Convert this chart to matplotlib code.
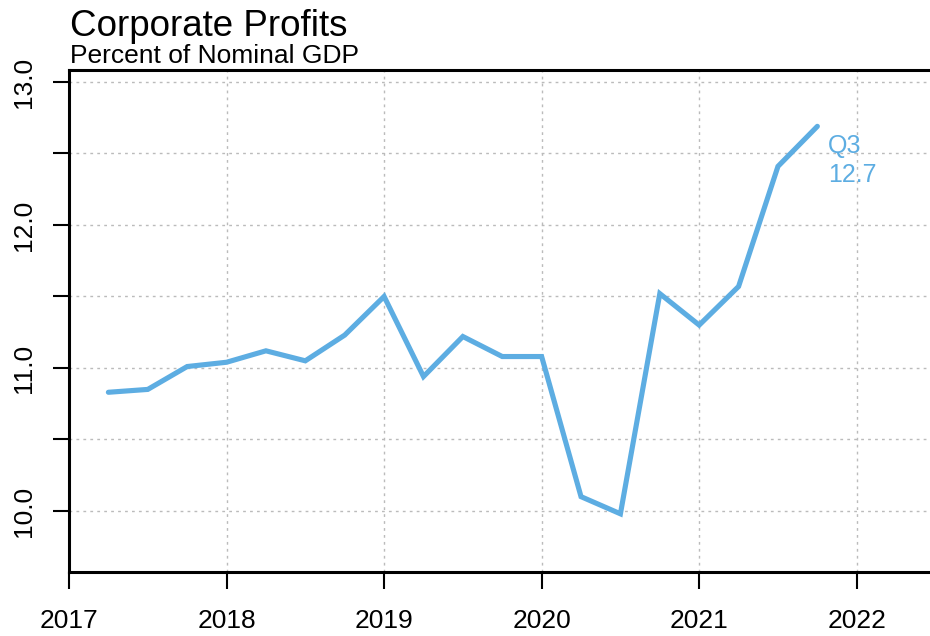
import matplotlib
matplotlib.use("Agg")
import matplotlib.pyplot as plt

plt.rcParams['font.family'] = ['Liberation Sans', 'DejaVu Sans']

# Quarterly corporate profits as a share of nominal GDP
quarters = ["2017Q1", "2017Q2", "2017Q3", "2017Q4",
            "2018Q1", "2018Q2", "2018Q3", "2018Q4",
            "2019Q1", "2019Q2", "2019Q3", "2019Q4",
            "2020Q1", "2020Q2", "2020Q3", "2020Q4",
            "2021Q1", "2021Q2", "2021Q3"]
profits_pct_gdp = [10.83, 10.85, 11.01, 11.04,
                   11.12, 11.05, 11.23, 11.50,
                   10.94, 11.22, 11.08, 11.08,
                   10.10, 9.98, 11.52, 11.30,
                   11.57, 12.41, 12.69]
year_ticks = [2017, 2018, 2019, 2020, 2021, 2022]
y_ticks = [10.0, 10.5, 11.0, 11.5, 12.0, 12.5, 13.0]
y_tick_labels = ["10.0", "", "11.0", "", "12.0", "", "13.0"]

line_color = "#5DADE2"

# quarter position: year + quarter/4
x = [int(q[:4]) + int(q[-1]) / 4 for q in quarters]

fig = plt.figure(figsize=(9.3, 6.36), dpi=100)
ax = fig.add_axes([69 / 930, 1 - 572 / 636, 1 - 69 / 930, (572 - 70) / 636])

ax.plot(x, profits_pct_gdp, color=line_color, lw=3.7, solid_capstyle='round',
        solid_joinstyle='miter', zorder=3)

ax.set_xlim(2017, 2022.465)
ax.set_ylim(9.573, 13.084)

ax.set_xticks(year_ticks)
ax.set_xticklabels([str(y) for y in year_ticks], fontsize=19)
ax.set_yticks(y_ticks)
ax.set_yticklabels(y_tick_labels, fontsize=19, rotation=90, va='center')

ax.tick_params(axis='x', length=12.5, width=1.5, pad=14, direction='out')
ax.tick_params(axis='y', length=11.5, width=1.5, pad=12, direction='out')

for side in ['left', 'bottom', 'top']:
    ax.spines[side].set_linewidth(2.2)
ax.spines['right'].set_visible(False)

ax.grid(True, color='#BBBBBB', linestyle=(0, (2, 3)), linewidth=1.0, zorder=0)
ax.set_axisbelow(True)

# end-of-series label
last_q = quarters[-1][-2:]
ax.annotate(f"{last_q}\n{profits_pct_gdp[-1]:.1f}", xy=(x[-1], profits_pct_gdp[-1]),
            xytext=(11, -8), textcoords='offset pixels', ha='left', va='top',
            color=line_color, fontsize=18, linespacing=1.22)

fig.text(70 / 930, 1 - 36 / 636, "Corporate Profits", fontsize=26.5, ha='left',
         va='baseline')
fig.text(70 / 930, 1 - 63 / 636, "Percent of Nominal GDP", fontsize=19, ha='left',
         va='baseline')

fig.savefig("out.png", dpi=100)
